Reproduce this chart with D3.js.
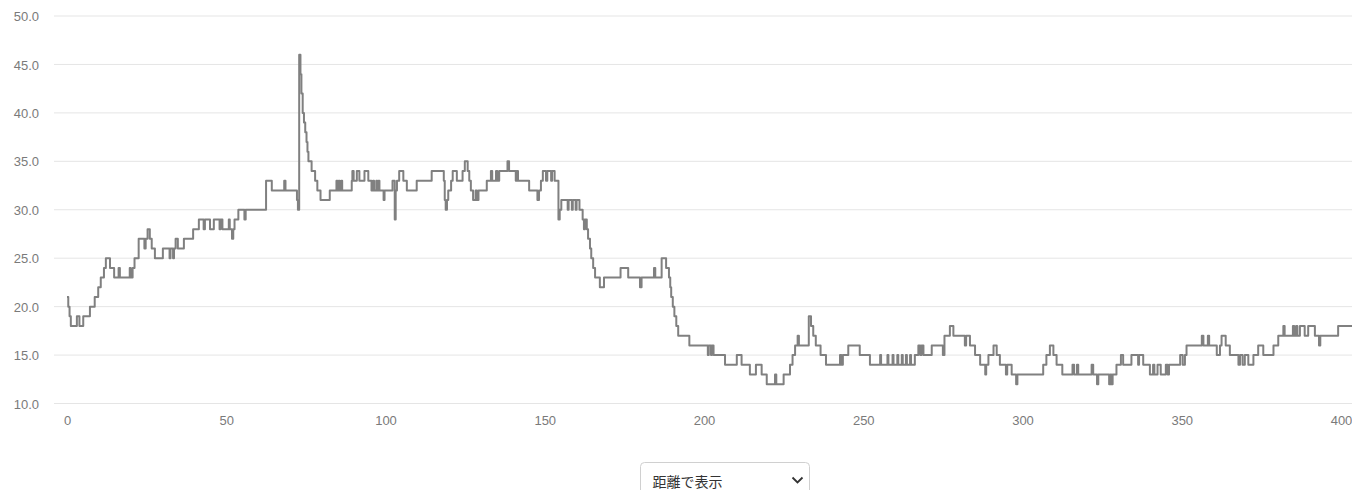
<!DOCTYPE html>
<html lang="ja">
<head>
<meta charset="utf-8">
<script src="https://cdn.jsdelivr.net/npm/d3@7"></script>
<style>
  html, body { margin: 0; padding: 0; background: #fff; overflow: hidden; }
  svg { display: block; }
</style>
</head>
<body>
<svg id="chart" width="1352" height="490"></svg>
<script>
// Change points of the series: distance (x) and value (y), held until the next point
const distance = [
  0,0.4,0.8,1.2,3.1,3.9,5.1,7.2,8.7,9.8,10.6,11.6,12.2,13.5,14.8,16.2,16.6,19.7,20.0,20.6,
  21.2,22.5,24.3,24.7,25.3,26.0,26.6,27.6,30.1,32.2,32.5,33.3,33.6,34.1,34.8,36.7,39.6,41.4,42.9,43.3,
  44.9,46.1,47.9,48.2,48.8,50.8,51.1,51.8,52.2,52.6,53.8,55.7,56.1,62.5,64.3,68.2,68.6,72.2,72.5,72.9,
  73.3,73.6,74.0,74.4,74.8,75.2,75.5,75.8,76.8,77.9,78.6,79.6,82.5,84.6,84.9,85.3,85.6,86.1,86.4,89.4,
  89.6,90.0,91.0,91.8,93.4,94.6,95.6,96.1,96.4,97.1,97.4,97.8,98.1,99.4,99.7,102.2,102.9,103.2,103.6,104.3,
  105.6,106.7,109.8,114.5,118.3,118.6,118.9,119.3,119.7,120.6,121.1,122.4,124.2,124.9,125.8,126.3,126.8,127.5,128.3,128.7,
  129.2,131.8,133.1,133.5,134.7,135.1,135.7,138.3,138.8,140.9,141.2,141.6,145.1,147.7,148.2,148.8,149.4,150.4,150.8,152.0,
  152.3,153.1,154.3,154.7,155.2,157.2,157.5,158.5,158.8,159.7,160.0,160.9,161.9,162.3,162.6,163.2,163.6,164.2,164.6,165.2,
  165.8,167.3,168.6,173.8,176.2,179.9,180.4,184.3,184.7,186.7,188.1,189.0,189.4,189.7,190.2,190.7,191.3,191.9,195.4,201.2,
  201.5,202.2,202.5,203.0,206.6,210.3,211.8,214.4,216.3,218.1,219.7,222.3,222.7,225.0,227.0,227.8,228.6,229.4,229.8,232.9,
  233.6,234.3,235.1,236.6,238.3,242.7,243.1,243.6,245.3,248.9,252.1,255.3,255.6,257.6,257.9,259.2,259.5,260.7,261.0,262.1,
  262.4,263.4,263.7,264.7,265.0,266.2,267.3,267.9,268.3,268.9,271.5,275.0,275.5,277.2,278.3,281.9,282.3,283.5,285.1,286.7,
  288.3,288.6,289.3,290.9,291.9,292.9,294.8,295.2,296.6,298.0,298.4,306.5,307.5,308.6,309.7,310.7,312.5,315.7,316.2,317.1,
  317.5,321.7,322.2,323.4,323.8,327.2,327.6,327.9,328.3,329.5,330.9,331.6,334.2,336.3,336.6,337.9,340.0,341.0,341.4,342.4,
  343.4,345.0,345.6,346.0,349.5,350.3,351.0,351.5,356.3,356.8,358.2,358.6,361.0,362.0,362.5,363.8,365.1,367.8,368.3,369.1,
  369.8,370.9,372.5,374.0,375.6,378.8,380.3,381.9,382.3,384.9,385.3,385.9,386.3,387.1,388.6,389.7,391.8,393.1,393.5,399.1,
  403.5
];
const value = [
  21,20,19,18,19,18,19,20,21,22,23,24,25,24,23,24,23,24,23,24,
  25,27,26,27,28,27,26,25,26,25,26,25,26,27,26,27,28,29,28,29,
  28,29,28,29,28,29,28,27,28,29,30,29,30,33,32,33,32,31,30,46,
  44,42,40,39,38,37,36,35,34,33,32,31,32,33,32,33,32,33,32,33,
  34,33,34,33,34,33,32,33,32,33,32,33,32,31,32,33,29,32,33,34,
  33,32,33,34,33,31,30,31,32,33,34,33,34,35,34,33,32,31,32,31,
  32,33,34,33,34,33,34,35,34,33,34,33,32,31,32,33,34,33,34,33,
  34,33,29,30,31,30,31,30,31,30,31,30,29,28,29,28,27,26,25,24,
  23,22,23,24,23,22,23,24,23,25,24,23,22,21,20,19,18,17,16,15,
  16,15,16,15,14,15,14,13,14,13,12,13,12,13,14,15,16,17,16,19,
  18,17,16,15,14,15,14,15,16,15,14,15,14,15,14,15,14,15,14,15,
  14,15,14,15,14,15,16,15,16,15,16,15,17,18,17,16,17,16,15,14,
  13,14,15,16,15,14,13,14,13,12,13,14,15,16,15,14,13,14,13,14,
  13,14,13,12,13,12,13,12,13,14,15,14,15,14,15,14,13,14,13,14,
  13,14,13,14,15,14,15,16,17,16,17,16,15,16,17,16,15,14,15,14,
  15,14,15,16,15,16,17,18,17,18,17,18,17,18,17,18,17,16,17,18,
  18
];
const xTicks = [0, 50, 100, 150, 200, 250, 300, 350, 400];
const yTicks = [10, 15, 20, 25, 30, 35, 40, 45, 50];
const viewLabel = "距離で表示";

const svg = d3.select("#chart");
const plotLeft = 54, plotRight = 1352, plotTop = 16, plotBottom = 403.5;

const x = d3.scaleLinear().domain([0, 400]).range([67, 1341]);
const y = d3.scaleLinear().domain([10, 50]).range([plotBottom, plotTop]);

const font = "'Liberation Sans', Arial, sans-serif";

// horizontal gridlines
svg.append("g")
  .selectAll("line").data(yTicks).join("line")
  .attr("x1", plotLeft).attr("x2", plotRight)
  .attr("y1", d => y(d)).attr("y2", d => y(d))
  .attr("stroke", "#e5e5e5").attr("stroke-width", 1);

// y axis labels
const yAxis = d3.axisLeft(y).tickValues(yTicks).tickFormat(d3.format(".1f")).tickSize(0).tickPadding(0);
svg.append("g")
  .attr("transform", "translate(39,0.5)")
  .call(yAxis)
  .call(g => g.select(".domain").remove())
  .call(g => g.selectAll("text").attr("fill", "#7a7a7a").style("font-family", font).style("font-size", "13px"));

// x axis labels
const xAxis = d3.axisBottom(x).tickValues(xTicks).tickFormat(d3.format("d")).tickSize(0).tickPadding(0);
svg.append("g")
  .attr("transform", "translate(0,416)")
  .call(xAxis)
  .call(g => g.select(".domain").remove())
  .call(g => g.selectAll("text").attr("fill", "#7a7a7a").style("font-family", font).style("font-size", "13px"));

// clip
svg.append("clipPath").attr("id", "plotclip")
  .append("rect").attr("x", plotLeft).attr("y", 0).attr("width", plotRight - plotLeft).attr("height", 420);

const pts = distance.map((d, i) => [d, value[i]]);
const line = d3.line()
  .x(d => x(d[0])).y(d => y(d[1]))
  .curve(d3.curveStepAfter);

svg.append("path")
  .attr("clip-path", "url(#plotclip)")
  .attr("d", line(pts))
  .attr("fill", "none")
  .attr("stroke", "#808080")
  .attr("stroke-width", 2)
  .attr("stroke-linejoin", "round");

// select-like control
const sel = svg.append("g").attr("transform", "translate(640.5,462.5)");
sel.append("rect")
  .attr("width", 169).attr("height", 38).attr("rx", 4)
  .attr("fill", "#fff").attr("stroke", "#d0d0d0");
sel.append("text")
  .attr("x", 12).attr("y", 24)
  .attr("fill", "#333")
  .style("font-family", "'Noto Sans CJK JP', sans-serif")
  .style("font-size", "14px")
  .text(viewLabel);
sel.append("path")
  .attr("d", "M152,15 L157,20 L162,15")
  .attr("fill", "none").attr("stroke", "#333").attr("stroke-width", 1.8);
</script>
</body>
</html>
